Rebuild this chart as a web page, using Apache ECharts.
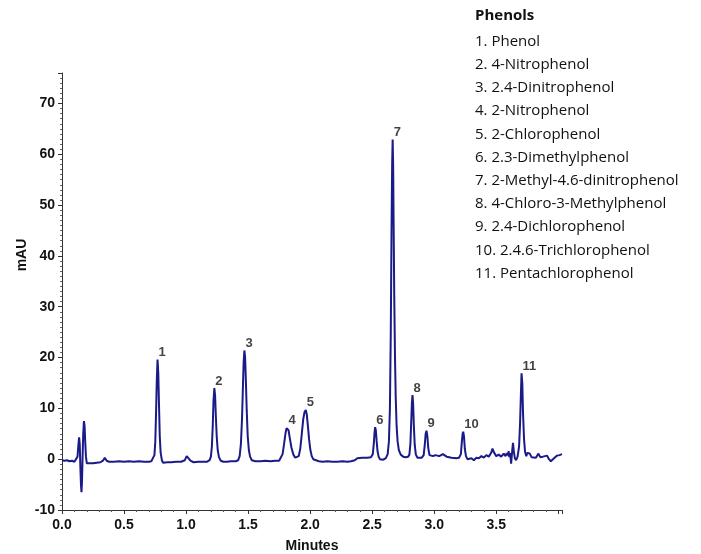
<!DOCTYPE html>
<html>
<head>
<meta charset="utf-8">
<script src="https://cdn.jsdelivr.net/npm/echarts@6/dist/echarts.min.js"></script>
<style>
  html, body { margin: 0; padding: 0; background: #fff; }
  #chart { width: 701px; height: 554px; }
</style>
</head>
<body>
<div id="chart"></div>
<script>
// chromatogram trace (minutes, mAU)
const traceTime = [
  0.00, 0.02, 0.04, 0.06, 0.08, 0.10, 0.115, 0.125, 0.132, 0.138, 0.143, 0.148, 0.153, 0.157, 0.161,
  0.166, 0.171, 0.177, 0.182, 0.187, 0.193, 0.200, 0.21, 0.23, 0.25, 0.28, 0.31, 0.33, 0.345, 0.36,
  0.38, 0.42, 0.46, 0.50, 0.54, 0.58, 0.62, 0.66, 0.70, 0.72, 0.735, 0.745, 0.752, 0.758, 0.764,
  0.770, 0.776, 0.782, 0.788, 0.795, 0.805, 0.815, 0.83, 0.85, 0.88, 0.92, 0.96, 0.99, 1.005, 1.02,
  1.035, 1.06, 1.10, 1.14, 1.17, 1.19, 1.20, 1.208, 1.215, 1.221, 1.228, 1.234, 1.240, 1.247, 1.255,
  1.265, 1.28, 1.30, 1.33, 1.36, 1.40, 1.42, 1.432, 1.442, 1.451, 1.458, 1.464, 1.470, 1.476, 1.482,
  1.489, 1.497, 1.506, 1.516, 1.53, 1.56, 1.60, 1.64, 1.68, 1.72, 1.75, 1.765, 1.778, 1.790, 1.802,
  1.810, 1.817, 1.826, 1.837, 1.850, 1.865, 1.880, 1.895, 1.908, 1.920, 1.932, 1.944, 1.955, 1.965,
  1.973, 1.982, 1.992, 2.002, 2.013, 2.025, 2.04, 2.07, 2.10, 2.14, 2.18, 2.22, 2.26, 2.30, 2.33,
  2.36, 2.38, 2.42, 2.46, 2.49, 2.505, 2.513, 2.519, 2.524, 2.530, 2.536, 2.543, 2.552, 2.562, 2.575,
  2.59, 2.61, 2.625, 2.635, 2.643, 2.650, 2.656, 2.661, 2.665, 2.669, 2.673, 2.678, 2.684, 2.690, 2.697,
  2.705, 2.715, 2.73, 2.75, 2.77, 2.79, 2.80, 2.808, 2.815, 2.820, 2.825, 2.830, 2.836, 2.843, 2.852,
  2.865, 2.88, 2.90, 2.915, 2.924, 2.931, 2.938, 2.945, 2.952, 2.962, 2.975, 2.99, 3.01, 3.04, 3.07,
  3.10, 3.14, 3.18, 3.20, 3.215, 3.223, 3.229, 3.234, 3.240, 3.247, 3.256, 3.268, 3.28, 3.30, 3.32,
  3.34, 3.36, 3.38, 3.40, 3.42, 3.44, 3.46, 3.47, 3.48, 3.50, 3.52, 3.54, 3.56, 3.575, 3.585,
  3.595, 3.600, 3.605, 3.612, 3.620, 3.628, 3.635, 3.642, 3.650, 3.660, 3.672, 3.684, 3.692, 3.699, 3.704,
  3.710, 3.716, 3.724, 3.732, 3.742, 3.750, 3.77, 3.785, 3.80, 3.82, 3.84, 3.855, 3.875, 3.89, 3.91,
  3.925, 3.94, 3.955, 3.97, 3.99, 4.01, 4.03
];
const traceMAU = [
  -0.2, -0.3, -0.2, -0.4, -0.3, -0.5, -0.4, 0.5, 2.8, 4.3, 3.0, -1.5, -5.0, -6.5, -4.5,
  0.5, 5.0, 7.5, 6.5, 3.5, 0.5, -0.8, -1.0, -0.8, -0.8, -0.7, -0.6, -0.3, 0.3, -0.3,
  -0.5, -0.5, -0.4, -0.5, -0.4, -0.5, -0.4, -0.5, -0.5, -0.4, -0.2, 0.8, 3.5, 9.0, 15.5,
  19.6, 17.0, 10.5, 4.5, 1.3, -0.2, -0.7, -0.8, -0.6, -0.6, -0.5, -0.5, -0.2, 0.6, 0.4,
  -0.3, -0.6, -0.5, -0.5, -0.5, -0.2, 0.5, 2.5, 6.5, 11.5, 14.0, 12.5, 8.5, 4.5, 1.8,
  0.4, -0.3, -0.5, -0.5, -0.4, -0.4, -0.2, 0.6, 3.0, 8.0, 14.0, 19.0, 21.4, 20.0, 15.5,
  9.5, 4.5, 1.8, 0.5, -0.2, -0.4, -0.4, -0.3, -0.4, -0.3, -0.3, 0.0, 1.0, 3.0, 5.2,
  6.1, 6.3, 5.7, 4.0, 2.2, 0.9, 0.3, 0.2, 0.6, 2.0, 4.8, 7.8, 9.3, 9.7,
  8.8, 6.5, 3.8, 1.8, 0.6, 0.0, -0.3, -0.4, -0.5, -0.4, -0.5, -0.5, -0.4, -0.5, -0.4,
  -0.2, 0.2, 0.3, 0.3, 0.4, 1.0, 3.0, 5.2, 6.3, 5.6, 3.6, 1.6, 0.5, 0.0, -0.2,
  -0.1, 0.2, 1.0, 3.5, 10, 25, 45, 58, 62.9, 58, 46, 32, 20, 12, 6.5,
  3.5, 1.8, 0.9, 0.5, 0.4, 0.5, 0.9, 3.0, 7.5, 11.0, 12.6, 11.0, 6.5, 2.8, 0.9,
  0.3, 0.2, 0.3, 0.8, 2.8, 5.0, 5.6, 4.5, 2.2, 0.8, 0.5, 0.6, 0.8, 0.6, 1.0,
  0.5, 0.3, 0.2, 0.3, 1.0, 3.5, 5.0, 5.4, 4.5, 2.0, 0.6, 0.0, -0.3, 0.2, -0.2,
  0.3, 0.2, 0.6, 0.3, 0.8, 0.5, 1.3, 2.1, 1.4, 0.6, 0.9, 0.5, 1.1, 0.6, 1.2,
  0.8, 1.6, 0.4, 1.2, -0.9, 1.5, 3.2, 1.5, 0.2, -0.2, 0.5, 2.5, 7.0, 13.0, 16.9,
  15.0, 9.0, 4.0, 1.5, 0.6, 1.2, 1.1, 0.4, 0.6, 0.3, 1.1, 0.4, 0.5, 0.3, 0.7,
  0.0, -0.4, -0.2, 0.3, 0.7, 0.8, 1.0
];

// numbered peaks
const peakNames = ['1', '2', '3', '4', '5', '6', '7', '8', '9', '10', '11'];
const peakTimes = [0.770, 1.228, 1.470, 1.817, 1.965, 2.524, 2.665, 2.825, 2.938, 3.234, 3.704];
const peakHeights = [19.6, 14.0, 21.4, 6.3, 9.7, 6.3, 62.9, 12.6, 5.6, 5.4, 16.9];

const compounds = [
  '1. Phenol',
  '2. 4-Nitrophenol',
  '3. 2.4-Dinitrophenol',
  '4. 2-Nitrophenol',
  '5. 2-Chlorophenol',
  '6. 2.3-Dimethylphenol',
  '7. 2-Methyl-4.6-dinitrophenol',
  '8. 4-Chloro-3-Methylphenol',
  '9. 2.4-Dichlorophenol',
  '10. 2.4.6-Trichlorophenol',
  '11. Pentachlorophenol'
];

const chart = echarts.init(document.getElementById('chart'));

const axisFont = {
  color: '#111',
  fontFamily: 'Liberation Sans, Arial, sans-serif',
  fontWeight: 'bold',
  fontSize: 14
};

const option = {
  animation: false,
  backgroundColor: '#fff',
  grid: { left: 62, right: 139, top: 73, bottom: 44, outerBoundsMode: 'none' },
  xAxis: {
    type: 'value',
    min: 0,
    max: 4.03,
    interval: 0.5,
    name: 'Minutes',
    nameLocation: 'middle',
    nameGap: 29,
    nameTextStyle: axisFont,
    axisLine: { onZero: false, lineStyle: { color: '#333', width: 1 } },
    axisTick: { inside: false, length: 4, lineStyle: { color: '#333' } },
    minorTick: { show: true, splitNumber: 5, length: 2, lineStyle: { color: '#555' } },
    axisLabel: Object.assign({
      margin: 8,
      showMaxLabel: false,
      // the reference stops labelling at 3.5
      formatter: v => (v > 3.75 ? '' : v.toFixed(1))
    }, axisFont),
    splitLine: { show: false }
  },
  yAxis: {
    type: 'value',
    min: -10,
    max: 76,
    interval: 10,
    axisLine: { show: true, onZero: false, lineStyle: { color: '#333', width: 1 } },
    axisTick: { show: true, length: 4, lineStyle: { color: '#333' } },
    minorTick: { show: true, splitNumber: 10, length: 2, lineStyle: { color: '#666' } },
    axisLabel: Object.assign({ margin: 7, showMaxLabel: false }, axisFont),
    splitLine: { show: false }
  },
  series: [
    {
      type: 'line',
      data: traceTime.map((t, i) => [t, traceMAU[i]]),
      showSymbol: false,
      lineStyle: { color: '#1a1a88', width: 2 },
      z: 3
    },
    {
      type: 'scatter',
      data: peakTimes.map((t, i) => ({ value: [t, peakHeights[i]], name: peakNames[i] })),
      symbolSize: 0,
      label: {
        show: true,
        position: 'right',
        distance: 1,
        offset: [0, -7],
        formatter: p => p.name,
        color: '#111',
        fontFamily: 'Liberation Sans, Arial, sans-serif',
        fontWeight: 'bold',
        fontSize: 13
      },
      silent: true,
      z: 4
    }
  ],
  graphic: [
    {
      // y axis title, placed by hand so it sits where the reference has it
      type: 'text',
      x: 22,
      y: 255,
      rotation: Math.PI / 2,
      style: {
        text: 'mAU',
        align: 'center',
        verticalAlign: 'middle',
        font: 'bold 14px "Liberation Sans", Arial, sans-serif',
        fill: '#111'
      }
    },
    {
      type: 'text',
      left: 475,
      top: 8,
      style: {
        text: 'Phenols',
        font: 'bold 15px "Open Sans", sans-serif',
        fill: '#111'
      }
    },
    {
      type: 'text',
      left: 475,
      top: 30,
      style: {
        text: compounds.join('\n'),
        font: '15px "Open Sans", sans-serif',
        lineHeight: 23.2,
        fill: '#111'
      }
    }
  ]
};

chart.setOption(option);
</script>
</body>
</html>
